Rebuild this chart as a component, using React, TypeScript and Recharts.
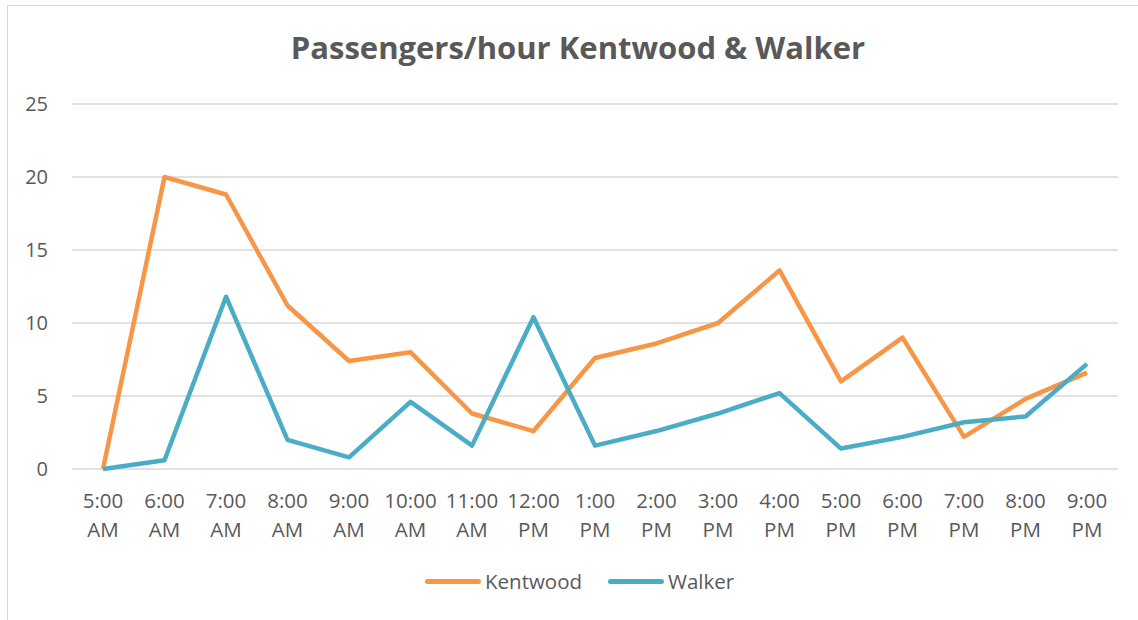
import React from 'react';
import { LineChart, Line, XAxis, YAxis, CartesianGrid } from 'recharts';

const hours = ['5:00', '6:00', '7:00', '8:00', '9:00', '10:00', '11:00', '12:00', '1:00', '2:00', '3:00', '4:00', '5:00', '6:00', '7:00', '8:00', '9:00'];
const periods = ['AM', 'AM', 'AM', 'AM', 'AM', 'AM', 'AM', 'PM', 'PM', 'PM', 'PM', 'PM', 'PM', 'PM', 'PM', 'PM', 'PM'];
const kentwood = [0, 20, 18.8, 11.2, 7.4, 8, 3.8, 2.6, 7.6, 8.6, 10, 13.6, 6, 9, 2.2, 4.8, 6.6];
const walker = [0, 0.6, 11.8, 2, 0.8, 4.6, 1.6, 10.4, 1.6, 2.6, 3.8, 5.2, 1.4, 2.2, 3.2, 3.6, 7.2];
const yTicks = [0, 5, 10, 15, 20, 25];

const data = hours.map((h, i) => ({
  time: h + ' ' + periods[i],
  Kentwood: kentwood[i],
  Walker: walker[i],
}));

const FONT = '"Open Sans", sans-serif';
const TEXT = '#595959';
const ORANGE = '#F79646';
const BLUE = '#4BACC6';

// two-line time labels ("5:00" over "AM")
const TimeTick = ({ x, y, payload }: any) => {
  const [t, p] = String(payload.value).split(' ');
  return (
    <text x={x} y={y} textAnchor="middle" fill={TEXT} fontSize={20.5} fontFamily={FONT}>
      <tspan x={x} dy={37}>{t}</tspan>
      <tspan x={x} dy={29}>{p}</tspan>
    </text>
  );
};

const LegendItem = ({ color, label }: { color: string; label: string }) => (
  <div style={{ display: 'flex', alignItems: 'center', marginRight: 26 }}>
    <div style={{ width: 56, height: 5, borderRadius: 3, background: color, marginRight: 4 }} />
    <span>{label}</span>
  </div>
);

export default function App() {
  return (
    <div style={{ position: 'absolute', left: 0, top: 0, width: 1138, height: 620, overflow: 'hidden', background: '#fff' }}>
      <div
        style={{
          position: 'absolute',
          left: 7,
          top: 5,
          width: 1142,
          height: 640,
          border: '1.5px solid #D9D9D9',
          boxSizing: 'border-box',
        }}
      />
      <div
        style={{
          position: 'absolute',
          left: 7,
          width: 1142,
          top: 26,
          textAlign: 'center',
          fontFamily: FONT,
          fontWeight: 700,
          fontSize: 31,
          color: TEXT,
        }}
      >
        Passengers/hour Kentwood &amp; Walker
      </div>
      <div style={{ position: 'absolute', left: 0, top: 0 }}>
        <LineChart width={1138} height={620} data={data} margin={{ top: 104, right: 20, bottom: 71, left: 0 }}>
          <CartesianGrid vertical={false} stroke="#D9D9D9" strokeWidth={1.5} />
          <XAxis
            dataKey="time"
            axisLine={false}
            tickLine={false}
            tickSize={0}
            interval={0}
            height={80}
            padding={{ left: 31, right: 31 }}
            tick={<TimeTick />}
          />
          <YAxis
            width={72}
            domain={[0, 25]}
            ticks={yTicks}
            axisLine={false}
            tickLine={false}
            tickSize={0}
            tickMargin={24}
            tick={{ fill: TEXT, fontSize: 20, fontFamily: FONT }}
          />
          <Line type="linear" dataKey="Kentwood" stroke={ORANGE} strokeWidth={4.5} dot={false} isAnimationActive={false} strokeLinejoin="round" />
          <Line type="linear" dataKey="Walker" stroke={BLUE} strokeWidth={4.5} dot={false} isAnimationActive={false} strokeLinejoin="round" />
        </LineChart>
      </div>
      <div
        style={{
          position: 'absolute',
          top: 567,
          left: 425,
          display: 'flex',
          fontFamily: FONT,
          fontSize: 20.5,
          color: TEXT,
        }}
      >
        <LegendItem color={ORANGE} label="Kentwood" />
        <LegendItem color={BLUE} label="Walker" />
      </div>
    </div>
  );
}
